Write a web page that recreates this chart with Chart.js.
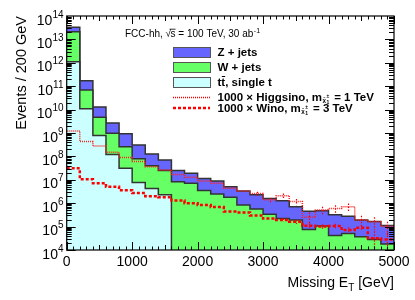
<!DOCTYPE html>
<html>
<head>
<meta charset="utf-8">
<script src="https://cdn.jsdelivr.net/npm/chart.js@4.4.1/dist/chart.umd.min.js"></script>
<style>
  html, body { margin: 0; padding: 0; background: #fff; }
  #wrap { width: 415px; height: 300px; }
</style>
</head>
<body>
<div id="wrap"><canvas id="myChart" width="415" height="300"></canvas></div>
<script>
// bin edges of the histogram (GeV), 200 GeV wide bins
const binEdges = [0, 200, 400, 600, 800, 1000, 1200, 1400, 1600, 1800, 2000, 2200, 2400,
  2600, 2800, 3000, 3200, 3400, 3600, 3800, 4000, 4200, 4400, 4600, 4800, 5000];

// stacked backgrounds, values are the top of each layer in the stack
const zjetsStack = [3.3e13, 1.7e11, 1.3e10, 2.7e9, 9.3e8, 3.1e8, 1.26e8, 7.1e7, 2.5e7, 1.9e7,
  1.15e7, 8.9e6, 5.1e6, 3.3e6, 2.3e6, 1.6e6, 1.26e6, 7.1e5, 4.5e5, 4.8e5, 3.2e5, 2.8e5, 1.9e5, 1.66e5, 1.12e5];
const wjetsStack = [2.1e13, 6.9e10, 4.7e9, 9.8e8, 2.6e8, 7.9e7, 4.0e7, 2.5e7, 8.3e6, 7.1e6,
  3.5e6, 2.5e6, 1.8e6, 8.3e5, 5.6e5, 3.4e5, 2.2e5, 1.9e5, 7.6e4, 1.07e5, 4.2e4, 5.1e4, 3.7e4, 2.8e4, 1.8e4];
const ttbar = [1.1e12, 1.1e10, 7.9e8, 1.2e8, 3.1e7, 7.6e6, 4.2e6, 2.3e6, 0, 0,
  0, 0, 0, 0, 0, 0, 0, 0, 0, 0, 0, 0, 0, 0, 0];

// signals (x 1000) and their statistical errors
const higgsino = [1.23e9, 4.3e8, 2.75e8, 1.5e8, 8.9e7, 6.0e7, 3.6e7, 2.6e7, 1.7e7, 1.3e7,
  8.9e6, 7.1e6, 4.4e6, 3.3e6, 2.6e6, 1.4e6, 2.1e6, 1.17e6, 2.5e5, 5.1e5, 6.0e5, 7.1e5, 1.9e5, 1.6e5, 1.0e5];
const higgsinoErr = [0, 0, 0, 0, 0, 0, 0, 0, 0, 0,
  0, 0, 0, 0, 5e5, 3e5, 5e5, 3.5e5, 1.5e5, 2e5, 2.2e5, 2.5e5, 1e5, 9e4, 6e4];
const wino = [3.1e7, 1.05e7, 7.1e6, 5.1e6, 3.6e6, 2.7e6, 2.0e6, 1.8e6, 1.3e6, 1.0e6,
  8.3e5, 6.8e5, 4.4e5, 4.0e5, 3.0e5, 2.2e5, 1.9e5, 1.6e5, 1.1e5, 1.0e5, 1.07e5, 7.1e4, 8.9e4, 3.2e4, 2.8e4];
const winoErr = [0, 0, 0, 0, 0, 0, 0, 0, 0, 0,
  0, 0, 0, 0, 0, 0, 3e4, 3e4, 3e4, 2.5e4, 2.5e4, 2.2e4, 2.5e4, 3.2e4, 2.8e4];

const xTicks = [0, 1000, 2000, 3000, 4000, 5000];
const yExponents = [4, 5, 6, 7, 8, 9, 10, 11, 12, 13, 14];

const FONT = '"Liberation Sans", Arial, Helvetica, sans-serif';
const Y_FLOOR = 1; // empty bins are drawn below the axis

// histogram values -> step points (left edges + closing point at the last edge)
function toSteps(values) {
  const pts = values.map((v, i) => ({ x: binEdges[i], y: v > 0 ? v : Y_FLOOR }));
  pts.push({ x: binEdges[binEdges.length - 1], y: pts[pts.length - 1].y });
  return pts;
}

const axesPlugin = {
  id: 'rootAxes',
  afterDatasetsDraw(chart) {
    // error bars of the signal histograms
    const c = chart.ctx;
    const a = chart.chartArea;
    const xs = chart.scales.x;
    const ys = chart.scales.y;
    c.save();
    c.beginPath();
    c.rect(a.left, a.top, a.right - a.left, a.bottom - a.top);
    c.clip();
    c.strokeStyle = '#ff0000';
    c.lineWidth = 1.2;
    c.setLineDash([1.5, 1.5]);
    [[higgsino, higgsinoErr], [wino, winoErr]].forEach(([vals, errs]) => {
      vals.forEach((v, i) => {
        if (!errs[i]) return;
        const px = Math.round(xs.getPixelForValue((binEdges[i] + binEdges[i + 1]) / 2)) + 0.5;
        const lo = v - errs[i];
        const yTop = ys.getPixelForValue(v + errs[i]);
        const yBot = lo > 0 ? ys.getPixelForValue(lo) : a.bottom;
        c.beginPath(); c.moveTo(px, yTop); c.lineTo(px, Math.min(yBot, a.bottom)); c.stroke();
      });
    });
    c.restore();
  },
  afterDraw(chart) {
    const c = chart.ctx;
    const a = chart.chartArea;
    const xs = chart.scales.x;
    const ys = chart.scales.y;
    c.save();
    c.strokeStyle = '#000';
    c.fillStyle = '#000';
    c.lineWidth = 1;

    // ticks, inside, on all four sides
    c.beginPath();
    for (let v = 0; v <= 5000; v += 100) {
      const px = Math.round(xs.getPixelForValue(v)) + 0.5;
      const len = v % 1000 === 0 ? 8 : (v % 500 === 0 ? 5 : 3.5);
      c.moveTo(px, a.bottom); c.lineTo(px, a.bottom - len);
      c.moveTo(px, a.top); c.lineTo(px, a.top + len);
    }
    for (let e = 4; e < 14; e++) {
      for (let m = 1; m < 10; m++) {
        const py = Math.round(ys.getPixelForValue(m * Math.pow(10, e))) + 0.5;
        const len = m === 1 ? 9 : 5;
        c.moveTo(a.left, py); c.lineTo(a.left + len, py);
        c.moveTo(a.right, py); c.lineTo(a.right - len, py);
      }
    }
    c.stroke();

    // frame
    c.lineWidth = 1.2;
    c.strokeRect(a.left, a.top, a.right - a.left, a.bottom - a.top);

    // y tick labels 10^n
    c.textBaseline = 'alphabetic';
    c.textAlign = 'left';
    yExponents.forEach(e => {
      const py = ys.getPixelForValue(Math.pow(10, e));
      const base = '10', sup = String(e);
      c.font = '14px ' + FONT;
      const wb = c.measureText(base).width;
      c.font = '10px ' + FONT;
      const ws = c.measureText(sup).width;
      const right = 63.5;
      c.font = '14px ' + FONT;
      c.fillText(base, right - ws - wb, py + 8.5);
      c.font = '10px ' + FONT;
      c.fillText(sup, right - ws, py + 1.5);
    });

    // x tick labels
    c.font = '14px ' + FONT;
    c.textAlign = 'center';
    c.textBaseline = 'alphabetic';
    xTicks.forEach(v => {
      c.fillText(String(v), xs.getPixelForValue(v), 265.5);
    });

    // x title
    c.textAlign = 'left';
    c.font = '14px ' + FONT;
    const t1 = 'Missing E', t3 = ' [GeV]';
    const w1 = c.measureText(t1).width, w3 = c.measureText(t3).width;
    c.font = '10px ' + FONT;
    const w2 = c.measureText('T').width;
    let x0 = a.right - w1 - w2 - w3;
    c.font = '14px ' + FONT;
    c.fillText(t1, x0, 287);
    c.font = '10px ' + FONT;
    c.fillText('T', x0 + w1, 291);
    c.font = '14px ' + FONT;
    c.fillText(t3, x0 + w1 + w2, 287);

    // y title
    c.save();
    c.translate(25.5, a.top);
    c.rotate(-Math.PI / 2);
    c.textAlign = 'right';
    c.font = '14.5px ' + FONT;
    c.fillText('Events / 200 GeV', 0, 0);
    c.restore();

    // header text
    c.textAlign = 'left';
    c.font = '10px ' + FONT;
    let hx = 125;
    const hy = 37;
    const h1 = 'FCC-hh, ';
    c.fillText(h1, hx, hy); hx += c.measureText(h1).width;
    c.fillText('\u221A', hx, hy); hx += c.measureText('\u221A').width - 0.5;
    const ws = c.measureText('s').width;
    c.fillText('s', hx, hy);
    c.beginPath(); c.lineWidth = 0.8;
    c.moveTo(hx - 1, hy - 7.8); c.lineTo(hx + ws, hy - 7.8); c.stroke();
    hx += ws;
    const h2 = ' = 100 TeV, 30 ab';
    c.fillText(h2, hx, hy); hx += c.measureText(h2).width;
    c.font = '7px ' + FONT;
    c.fillText('-1', hx + 0.5, hy - 4.5);

    // legend
    const lx = 173, lw = 37, bh = 10, tx = 217.5;
    const LFONT = 'bold 11.5px ' + FONT;
    const boxes = [
      { y: 52, fill: '#6666ff', text: 'Z + jets' },
      { y: 67, fill: '#66ff66', text: 'W + jets' },
      { y: 82, fill: '#ccffff', text: 'tt' }
    ];
    c.font = LFONT;
    c.textBaseline = 'middle';
    boxes.forEach(b => {
      c.fillStyle = b.fill;
      c.fillRect(lx, b.y - bh / 2, lw, bh);
      c.strokeStyle = '#555';
      c.lineWidth = 1;
      c.strokeRect(lx + 0.5, b.y - bh / 2 + 0.5, lw, bh);
      c.fillStyle = '#000';
      c.fillText(b.text, tx, b.y + 0.5);
    });
    // tt-bar, single t
    const wt = c.measureText('t').width;
    const wtt = c.measureText('tt').width;
    c.fillText(', single t', tx + wtt, 82.5);
    c.beginPath(); c.strokeStyle = '#000'; c.lineWidth = 1;
    c.moveTo(tx + wt + 0.5, 76.5); c.lineTo(tx + wtt, 76.5); c.stroke();

    // signal legend lines
    c.strokeStyle = '#ff0000';
    c.lineWidth = 1.5;
    c.setLineDash([1, 1]);
    c.beginPath(); c.moveTo(lx, 97.5); c.lineTo(lx + lw, 97.5); c.stroke();
    c.lineWidth = 2.5;
    c.setLineDash([3, 2]);
    c.beginPath(); c.moveTo(lx, 108); c.lineTo(lx + lw, 108); c.stroke();
    c.setLineDash([]);

    function sigText(pre, post, y) {
      let x = tx;
      c.fillStyle = '#000';
      c.font = LFONT;
      c.fillText(pre, x, y); x += c.measureText(pre).width;
      c.font = 'bold 6px ' + FONT;
      c.fillText('\u03C7\u0303', x + 0.5, y + 3);
      c.font = 'bold 5px ' + FONT;
      c.fillText('\u00B1', x + 4.5, y - 1);
      c.fillText('1', x + 4.5, y + 5);
      x += 9;
      c.font = LFONT;
      c.fillText(post, x, y);
    }
    sigText('1000 \u00D7 Higgsino, m', ' = 1 TeV', 97.5);
    sigText('1000 \u00D7 Wino, m', ' = 3 TeV', 108.5);

    c.restore();
  }
};

const ctx = document.getElementById('myChart').getContext('2d');

const myChart = new Chart(ctx, {
  type: 'line',
  data: {
    datasets: [
      {
        label: '1000 x Wino',
        data: toSteps(wino),
        stepped: 'before',
        borderColor: '#ff0000',
        borderWidth: 2.5,
        borderDash: [3, 2],
        pointRadius: 0,
        fill: false
      },
      {
        label: '1000 x Higgsino',
        data: toSteps(higgsino),
        stepped: 'before',
        borderColor: '#ff2020',
        borderWidth: 1.5,
        borderDash: [1, 1],
        pointRadius: 0,
        fill: false
      },
      {
        label: 'tt, single t',
        data: toSteps(ttbar),
        stepped: 'before',
        borderColor: '#333',
        borderWidth: 1.5,
        backgroundColor: '#ccffff',
        pointRadius: 0,
        fill: 'start'
      },
      {
        label: 'W + jets',
        data: toSteps(wjetsStack),
        stepped: 'before',
        borderColor: '#333',
        borderWidth: 1.5,
        backgroundColor: '#66ff66',
        pointRadius: 0,
        fill: 'start'
      },
      {
        label: 'Z + jets',
        data: toSteps(zjetsStack),
        stepped: 'before',
        borderColor: '#333',
        borderWidth: 1.5,
        backgroundColor: '#6666ff',
        pointRadius: 0,
        fill: 'start'
      }
    ]
  },
  options: {
    responsive: false,
    animation: false,
    devicePixelRatio: 1,
    layout: { padding: { left: 0, right: 21, top: 16, bottom: 0 } },
    plugins: {
      legend: { display: false },
      tooltip: { enabled: false }
    },
    scales: {
      x: {
        type: 'linear',
        min: 0,
        max: 5000,
        grid: { display: false, drawTicks: false },
        border: { display: false },
        ticks: { display: false },
        afterFit(scale) { scale.height = 50; scale.paddingLeft = 0; scale.paddingRight = 0; }
      },
      y: {
        type: 'logarithmic',
        min: 1e4,
        max: 1e14,
        grid: { display: false, drawTicks: false },
        border: { display: false },
        ticks: { display: false },
        afterFit(scale) { scale.width = 66.7; scale.paddingTop = 0; scale.paddingBottom = 0; }
      }
    }
  },
  plugins: [axesPlugin]
});
</script>
</body>
</html>
